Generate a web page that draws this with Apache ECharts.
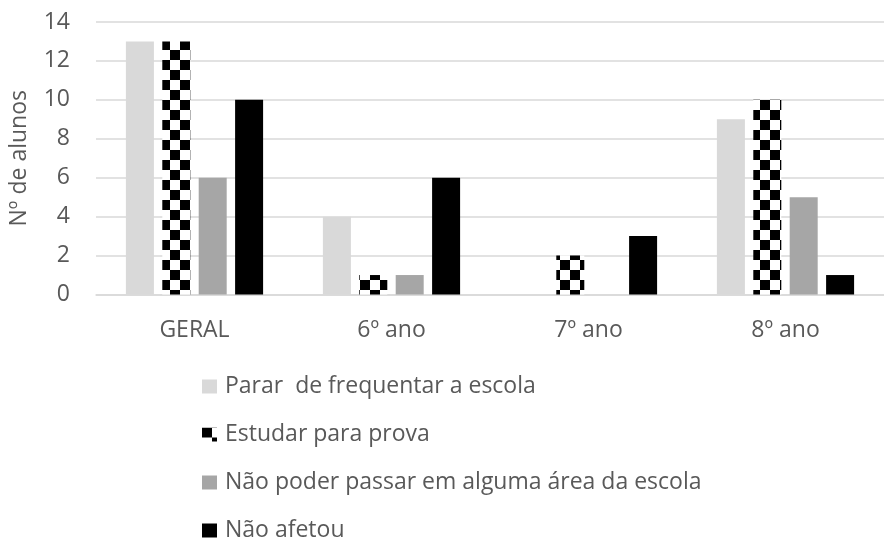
<!DOCTYPE html>
<html>
<head>
<meta charset="utf-8">
<script src="https://cdn.jsdelivr.net/npm/echarts@6/dist/echarts.min.js"></script>
<style>
  html, body { margin: 0; padding: 0; background: #fff; }
  #chart { width: 884px; height: 542px; }
</style>
</head>
<body>
<div id="chart"></div>
<script>
// Categories and series values
const categories = ['GERAL', '6º ano', '7º ano', '8º ano'];
const seriesNames = [
  'Parar  de frequentar a escola',
  'Estudar para prova',
  'Não poder passar em alguma área da escola',
  'Não afetou'
];
const pararValues = [13, 4, 0, 9];
const estudarValues = [13, 1, 2, 10];
const naoPoderValues = [6, 1, 0, 5];
const naoAfetouValues = [10, 6, 3, 1];
const yTicks = [0, 2, 4, 6, 8, 10, 12, 14];

// Black-and-white checkerboard tile used as a pattern fill
function checkerTile(cell) {
  const c = document.createElement('canvas');
  c.width = cell * 2;
  c.height = cell * 2;
  const ctx = c.getContext('2d');
  ctx.fillStyle = '#ffffff';
  ctx.fillRect(0, 0, cell * 2, cell * 2);
  ctx.fillStyle = '#000000';
  ctx.fillRect(0, 0, cell, cell);
  ctx.fillRect(cell, cell, cell, cell);
  return c;
}
const checker = { image: checkerTile(10), repeat: 'repeat' };

const FONT = '"Open Sans"';
const TEXT = '#595959';
const FS = 23;

const chart = echarts.init(document.getElementById('chart'), null, { renderer: 'canvas' });

function bar(name, data, color) {
  return {
    name: name,
    type: 'bar',
    data: data,
    barWidth: 28,
    barGap: '30%',
    itemStyle: { color: color },
    emphasis: { disabled: true }
  };
}

chart.setOption({
  animation: false,
  textStyle: { fontFamily: FONT, color: TEXT },
  grid: { left: 94, right: -15, top: 22, bottom: 247.5, containLabel: false },
  legend: {
    orient: 'vertical',
    left: 197,
    top: 370,
    height: 172,
    itemWidth: 15,
    itemHeight: 14,
    itemGap: 25,
    icon: 'rect',
    textStyle: { fontFamily: FONT, fontSize: FS, color: TEXT, padding: [0, 0, 0, 3] },
    data: seriesNames
  },
  xAxis: {
    type: 'category',
    data: categories,
    axisLine: { show: true, lineStyle: { color: '#d9d9d9', width: 1.5 } },
    axisTick: { show: false },
    axisLabel: { fontFamily: FONT, fontSize: FS, color: TEXT, margin: 24 }
  },
  yAxis: {
    type: 'value',
    min: yTicks[0],
    max: yTicks[yTicks.length - 1],
    interval: 2,
    name: 'Nº de alunos',
    nameLocation: 'middle',
    nameRotate: 90,
    nameGap: 65,
    nameTextStyle: { fontFamily: FONT, fontSize: FS, color: TEXT },
    axisLine: { show: false },
    axisTick: { show: false },
    axisLabel: { fontFamily: FONT, fontSize: FS, color: TEXT, margin: 26 },
    splitLine: { lineStyle: { color: '#d9d9d9', width: 1.5 } }
  },
  series: [
    bar(seriesNames[0], pararValues, '#d9d9d9'),
    bar(seriesNames[1], estudarValues, checker),
    bar(seriesNames[2], naoPoderValues, '#a6a6a6'),
    bar(seriesNames[3], naoAfetouValues, '#000000')
  ]
});
</script>
</body>
</html>
